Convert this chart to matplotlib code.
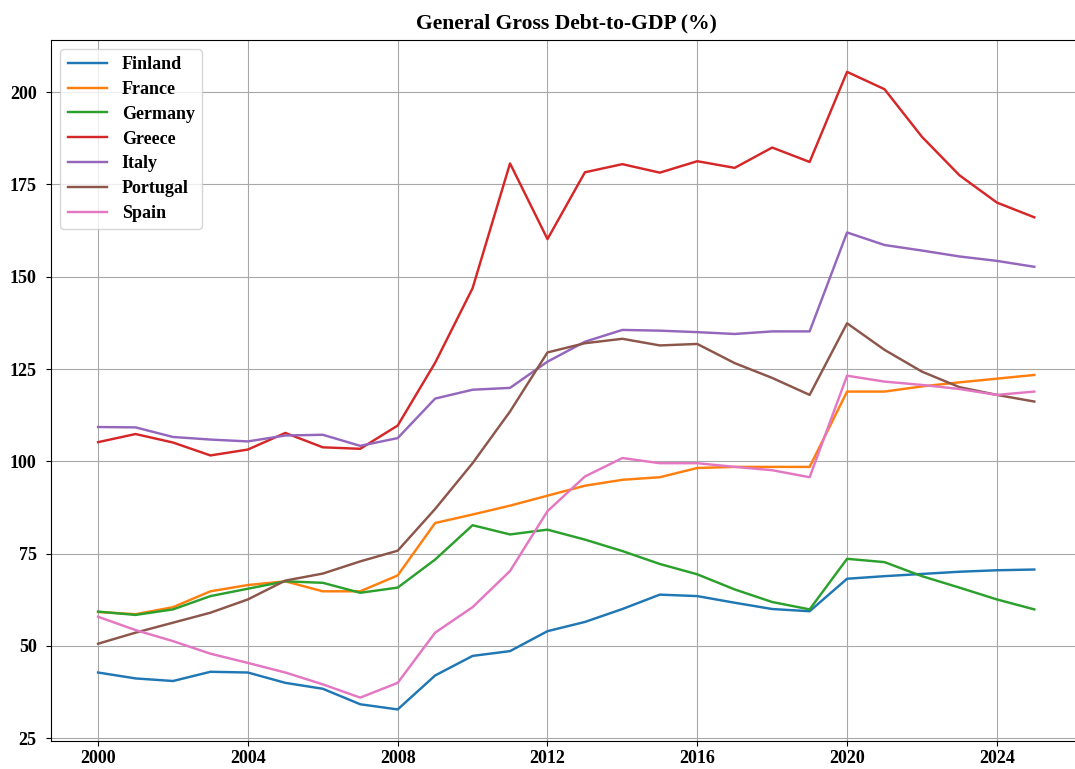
import matplotlib
matplotlib.use('Agg')
import matplotlib.pyplot as plt

# debt-to-GDP, %
years = list(range(2000, 2026))

finland = [42.8, 41.2, 40.5, 43.0, 42.8, 40.0, 38.4, 34.2, 32.8, 42.0, 47.3, 48.6, 54.0,
           56.5, 60.0, 63.9, 63.5, 61.7, 60.0, 59.4, 68.2, 68.9, 69.5, 70.1, 70.5, 70.7]
france = [59.2, 58.6, 60.5, 64.8, 66.5, 67.5, 64.8, 64.8, 69.1, 83.3, 85.6, 88.0, 90.7,
          93.4, 95.0, 95.7, 98.2, 98.5, 98.5, 98.5, 118.9, 118.9, 120.3, 121.4, 122.4, 123.4]
germany = [59.3, 58.4, 59.9, 63.5, 65.5, 67.5, 67.1, 64.4, 65.8, 73.4, 82.7, 80.2, 81.5,
           78.8, 75.7, 72.2, 69.4, 65.3, 61.9, 59.9, 73.6, 72.7, 68.9, 65.8, 62.6, 59.9]
greece = [105.2, 107.4, 105.1, 101.6, 103.2, 107.7, 103.8, 103.4, 109.7, 126.7, 146.9, 180.7, 160.2,
          178.3, 180.5, 178.2, 181.3, 179.5, 185.0, 181.1, 205.5, 200.8, 187.9, 177.5, 170.1, 166.1]
italy = [109.3, 109.2, 106.6, 105.9, 105.4, 107.0, 107.2, 104.2, 106.3, 117.0, 119.4, 119.9, 127.0,
         132.4, 135.6, 135.4, 135.0, 134.5, 135.2, 135.2, 162.0, 158.6, 157.1, 155.5, 154.3, 152.7]
portugal = [50.6, 53.6, 56.3, 59.0, 62.6, 67.7, 69.6, 72.9, 75.8, 87.1, 99.5, 113.5, 129.5,
            132.0, 133.2, 131.4, 131.8, 126.6, 122.6, 118.0, 137.4, 130.2, 124.3, 120.1, 118.0, 116.2]
spain = [57.9, 54.3, 51.3, 47.9, 45.4, 42.8, 39.6, 36.0, 40.0, 53.6, 60.5, 70.3, 86.5,
         95.9, 100.9, 99.5, 99.5, 98.5, 97.6, 95.7, 123.2, 121.6, 120.7, 119.6, 118.0, 118.9]

countries = ['Finland', 'France', 'Germany', 'Greece', 'Italy', 'Portugal', 'Spain']
series = [finland, france, germany, greece, italy, portugal, spain]

plt.rcParams['font.family'] = 'serif'
plt.rcParams['font.serif'] = ['Liberation Serif', 'DejaVu Serif']
plt.rcParams['font.weight'] = 'bold'

fig = plt.figure(figsize=(10.75, 7.69), dpi=100)
# axes run slightly past the right edge, as in the original (cropped) image
ax = fig.add_axes([0.0477, 0.036, 0.958, 0.912])

for name, vals in zip(countries, series):
    ax.plot(years, vals, label=name, linewidth=1.75)

ax.set_xticks(range(2000, 2025, 4))
ax.set_yticks(range(25, 201, 25))
ax.tick_params(labelsize=13)
ax.tick_params(axis='y', pad=7)
ax.tick_params(axis='x', pad=3)
ax.grid(True, color='#a8a8a8')
ax.set_title('General Gross Debt-to-GDP (%)', fontsize=15.6, fontweight='bold', pad=8)
ax.legend(loc='upper left', fontsize=13, handlelength=2.2, labelspacing=0.43)

fig.savefig('out.png', dpi=100)
